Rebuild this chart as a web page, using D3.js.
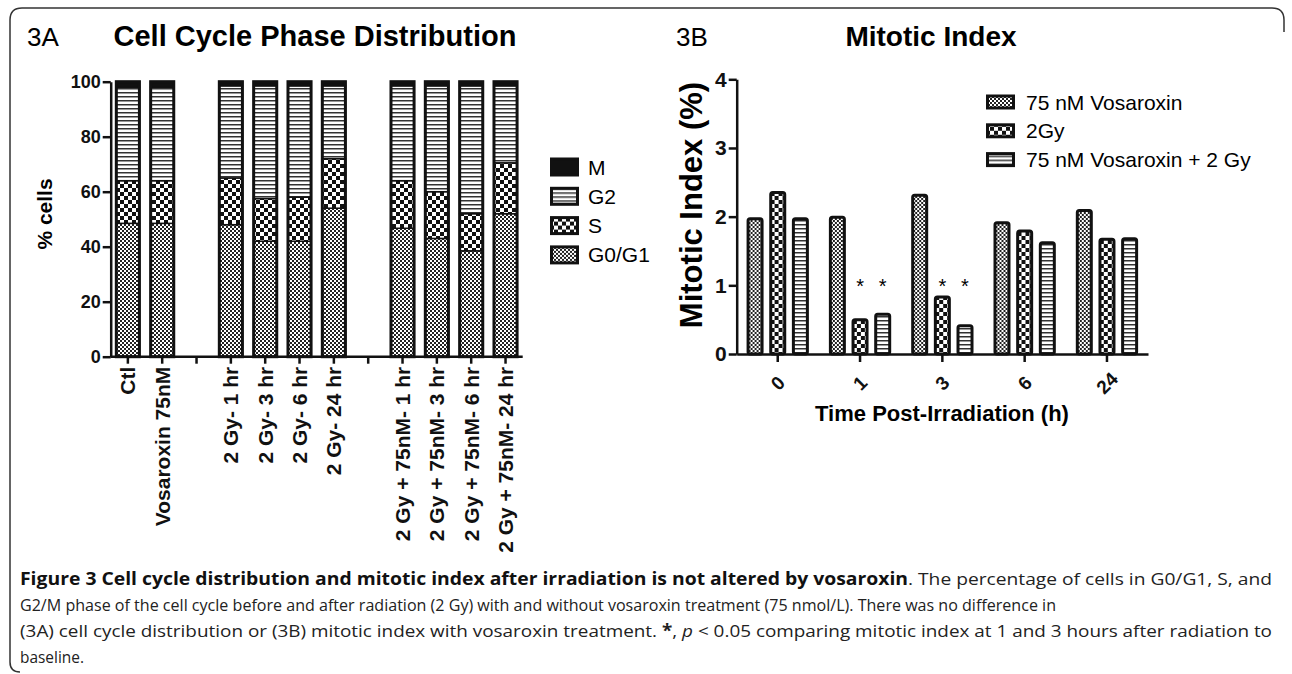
<!DOCTYPE html>
<html>
<head>
<meta charset="utf-8">
<title>Cell cycle distribution and mitotic index</title>
<style>
  body { margin: 0; background: #fff; }
  svg { display: block; font-family: "Liberation Sans", Arial, sans-serif; }
  .axis path, .axis line { stroke: #111; stroke-width: 2.5; }
  .axis text { fill: #111; font-weight: bold; }
  .caption { font-family: "Open Sans", "Noto Sans", sans-serif; font-size: 17px; fill: #222; }
</style>
</head>
<body>
<script src="https://d3js.org/d3.v7.min.js"></script>
<script>
// ---- 3A data: % cells per phase ----
var phaseCats = ["Ctl", "Vosaroxin 75nM", "gap1", "2 Gy- 1 hr", "2 Gy- 3 hr", "2 Gy- 6 hr", "2 Gy- 24 hr",
                 "gap2", "2 Gy + 75nM- 1 hr", "2 Gy + 75nM- 3 hr", "2 Gy + 75nM- 6 hr", "2 Gy + 75nM- 24 hr"];
var g0g1   = [48.5, 48.5, 0, 48, 42, 42, 54, 0, 46.7, 43, 38.5, 52];
var sPhase = [15.5, 15.5, 0, 17, 15.5, 16, 18, 0, 17.3, 17, 13.5, 18.5];
var g2     = [34, 34, 0, 33.5, 41, 40.5, 26.5, 0, 34.5, 38.5, 46.5, 28];
var mPhase = [2, 2, 0, 1.5, 1.5, 1.5, 1.5, 0, 1.5, 1.5, 1.5, 1.5];
var phaseKeys = ["G0/G1", "S", "G2", "M"];
var phaseTicks = [0, 20, 40, 60, 80, 100];

// ---- 3B data: mitotic index (%) ----
var times = ["0", "1", "3", "6", "24"];
var vosaroxin = [1.97, 1.99, 2.31, 1.91, 2.09];
var gy2       = [2.35, 0.50, 0.83, 1.79, 1.67];
var combo     = [1.97, 0.58, 0.41, 1.62, 1.68];
var seriesNames = ["75 nM Vosaroxin", "2Gy", "75 nM Vosaroxin + 2 Gy"];
var mitoticTicks = [0, 1, 2, 3, 4];
var starred = [["1", "2Gy"], ["1", "75 nM Vosaroxin + 2 Gy"], ["3", "2Gy"], ["3", "75 nM Vosaroxin + 2 Gy"]];

var svg = d3.select("body").append("svg")
    .attr("width", 1292)
    .attr("height", 674);

// patterns
var defs = svg.append("defs");
var pFine = defs.append("pattern").attr("id", "fine").attr("patternUnits", "userSpaceOnUse")
    .attr("width", 4).attr("height", 4);
pFine.append("rect").attr("width", 4).attr("height", 4).attr("fill", "#fff");
pFine.append("rect").attr("width", 2).attr("height", 2).attr("fill", "#222");
pFine.append("rect").attr("x", 2).attr("y", 2).attr("width", 2).attr("height", 2).attr("fill", "#222");

var pCheck = defs.append("pattern").attr("id", "check").attr("patternUnits", "userSpaceOnUse")
    .attr("width", 8).attr("height", 8);
pCheck.append("rect").attr("width", 8).attr("height", 8).attr("fill", "#fff");
pCheck.append("rect").attr("width", 4).attr("height", 4).attr("fill", "#111");
pCheck.append("rect").attr("x", 4).attr("y", 4).attr("width", 4).attr("height", 4).attr("fill", "#111");

var pStripe = defs.append("pattern").attr("id", "stripe").attr("patternUnits", "userSpaceOnUse")
    .attr("width", 4).attr("height", 4);
pStripe.append("rect").attr("width", 4).attr("height", 4).attr("fill", "#fff");
pStripe.append("rect").attr("width", 4).attr("height", 1.5).attr("fill", "#333");

var phaseFill = {"G0/G1": "url(#fine)", "S": "url(#check)", "G2": "url(#stripe)", "M": "#111"};
var seriesFill = {"75 nM Vosaroxin": "url(#fine)", "2Gy": "url(#check)", "75 nM Vosaroxin + 2 Gy": "url(#stripe)"};

// figure frame
svg.append("path")
    .attr("d", "M1284,32 L1284,20 Q1284,8 1272,8 L22,8 Q10,8 10,20 L10,662 Q10,672 20,672")
    .attr("fill", "none").attr("stroke", "#333").attr("stroke-width", 1.5);

// ================= 3A =================
var x1 = d3.scaleBand().domain(phaseCats).range([110.7, 522.7]).paddingInner(0.24).paddingOuter(0.12);
var y1 = d3.scaleLinear().domain([0, 100]).range([356.7, 81.7]);

var table = phaseCats.map(function(c, i) {
  return {cat: c, "G0/G1": g0g1[i], "S": sPhase[i], "G2": g2[i], "M": mPhase[i]};
}).filter(function(d) { return d.cat.indexOf("gap") !== 0; });

var stacked = d3.stack().keys(phaseKeys)(table);

var chartA = svg.append("g");
stacked.forEach(function(layer) {
  chartA.selectAll(".seg-" + layer.index)
    .data(layer)
    .enter().append("rect")
    .attr("x", function(d) { return x1(d.data.cat) + 1.5; })
    .attr("width", x1.bandwidth() - 3)
    .attr("y", function(d) { return y1(d[1]); })
    .attr("height", function(d) { return y1(d[0]) - y1(d[1]); })
    .attr("fill", phaseFill[layer.key])
    .attr("stroke", "#111")
    .attr("stroke-width", 1.5);
});
chartA.selectAll(".outline")
  .data(table)
  .enter().append("rect")
  .attr("x", function(d) { return x1(d.cat) + 1.5; })
  .attr("width", x1.bandwidth() - 3)
  .attr("y", function(d) { return y1(d["G0/G1"] + d.S + d.G2 + d.M); })
  .attr("height", function(d) { return y1(0) - y1(d["G0/G1"] + d.S + d.G2 + d.M); })
  .attr("fill", "none")
  .attr("stroke", "#111")
  .attr("stroke-width", 3);

svg.append("g")
  .attr("class", "axis")
  .attr("transform", "translate(110.7,0)")
  .call(d3.axisLeft(y1).tickValues(phaseTicks).tickSize(8).tickPadding(2).tickSizeOuter(0))
  .selectAll("text").style("font-size", "18px");

svg.append("g")
  .attr("class", "axis")
  .attr("transform", "translate(0,356.7)")
  .call(d3.axisBottom(x1).tickSize(7).tickSizeOuter(0)
        .tickFormat(function(d) { return d.indexOf("gap") === 0 ? "" : d; }))
  .call(function(g) { g.select(".domain").attr("d", "M110.7,0H522.7"); })
  .selectAll("text")
  .attr("x", -10).attr("y", 0).attr("dy", "0.35em")
  .attr("transform", "rotate(-90)")
  .style("text-anchor", "end")
  .style("font-size", "21px");

svg.append("text")
  .attr("transform", "translate(52,214) rotate(-90)")
  .attr("text-anchor", "middle")
  .style("font-weight", "bold").style("font-size", "21px")
  .text("%  cells");

svg.append("text").attr("x", 27).attr("y", 46).style("font-size", "26px").text("3A");
svg.append("text").attr("x", 315).attr("y", 46).attr("text-anchor", "middle")
  .style("font-weight", "bold").style("font-size", "29px").text("Cell Cycle Phase Distribution");

// legend 3A
var legA = svg.append("g").selectAll("g")
  .data(phaseKeys.slice().reverse())
  .enter().append("g")
  .attr("transform", function(d, i) { return "translate(550," + (167 + i * 29.3) + ")"; });
legA.append("rect").attr("x", 1.5).attr("y", -8).attr("width", 26).attr("height", 16)
  .attr("fill", function(d) { return phaseFill[d]; }).attr("stroke", "#111").attr("stroke-width", 3);
legA.append("text").attr("x", 38).attr("dy", "0.36em").style("font-size", "21px").text(function(d) { return d; });

// ================= 3B =================
var x2 = d3.scaleBand().domain(times).range([736.7, 1148]).paddingInner(0.243).paddingOuter(0.12);
var xs = d3.scaleBand().domain(seriesNames).range([0, x2.bandwidth()]).paddingInner(0.25).paddingOuter(0);
var y2 = d3.scaleLinear().domain([0, 4]).range([354, 79.3]);

var bars = times.map(function(t, i) {
  return [
    {time: t, series: seriesNames[0], value: vosaroxin[i]},
    {time: t, series: seriesNames[1], value: gy2[i]},
    {time: t, series: seriesNames[2], value: combo[i]}
  ];
});

var chartB = svg.append("g");
chartB.selectAll(".grp")
  .data(bars)
  .enter().append("g")
  .attr("transform", function(d, i) { return "translate(" + x2(times[i]) + ",0)"; })
  .selectAll("rect")
  .data(function(d) { return d; })
  .enter().append("rect")
  .attr("x", function(d) { return xs(d.series) + 1.5; })
  .attr("width", xs.bandwidth() - 3)
  .attr("y", function(d) { return y2(d.value); })
  .attr("height", function(d) { return y2(0) - y2(d.value); })
  .attr("rx", 2)
  .attr("fill", function(d) { return seriesFill[d.series]; })
  .attr("stroke", "#111")
  .attr("stroke-width", 3);

chartB.selectAll(".star")
  .data(starred)
  .enter().append("text")
  .attr("x", function(d) { return x2(d[0]) + xs(d[1]) + xs.bandwidth() / 2; })
  .attr("y", y2(1) + 8)
  .attr("text-anchor", "middle")
  .style("font-size", "20px")
  .text("*");

svg.append("g")
  .attr("class", "axis")
  .attr("transform", "translate(736.7,0)")
  .call(d3.axisLeft(y2).tickValues(mitoticTicks).tickFormat(d3.format("d"))
        .tickSize(8).tickPadding(2).tickSizeOuter(0))
  .selectAll("text").style("font-size", "21px");

svg.append("g")
  .attr("class", "axis")
  .attr("transform", "translate(0,354)")
  .call(d3.axisBottom(x2).tickSize(8).tickSizeOuter(0))
  .selectAll("text")
  .attr("x", 0).attr("y", 0).attr("dy", "0.35em")
  .attr("transform", "translate(0,29) rotate(-45)")
  .style("text-anchor", "middle")
  .style("font-size", "19px");

svg.append("text")
  .attr("transform", "translate(702,205) rotate(-90)")
  .attr("text-anchor", "middle")
  .style("font-weight", "bold").style("font-size", "31px")
  .text("Mitotic Index (%)");

svg.append("text").attr("x", 942).attr("y", 421).attr("text-anchor", "middle")
  .style("font-weight", "bold").style("font-size", "22px").text("Time Post-Irradiation (h)");

svg.append("text").attr("x", 676).attr("y", 46).style("font-size", "26px").text("3B");
svg.append("text").attr("x", 931).attr("y", 46).attr("text-anchor", "middle")
  .style("font-weight", "bold").style("font-size", "28px").text("Mitotic Index");

// legend 3B
var legB = svg.append("g").selectAll("g")
  .data(seriesNames)
  .enter().append("g")
  .attr("transform", function(d, i) { return "translate(986," + (102 + i * 28.8) + ")"; });
legB.append("rect").attr("x", 1.5).attr("y", -6).attr("width", 26).attr("height", 12)
  .attr("fill", function(d) { return seriesFill[d]; }).attr("stroke", "#111").attr("stroke-width", 3);
legB.append("text").attr("x", 40).attr("dy", "0.36em").style("font-size", "21px").text(function(d) { return d; });

// ================= caption =================
var cap = svg.append("g").attr("class", "caption");
cap.append("text").attr("x", 20).attr("y", 585)
  .attr("textLength", 888).attr("lengthAdjust", "spacingAndGlyphs")
  .style("font-weight", "bold").style("fill", "#111")
  .text("Figure 3 Cell cycle distribution and mitotic index after irradiation is not altered by vosaroxin");
cap.append("text").attr("x", 908).attr("y", 585)
  .attr("textLength", 364).attr("lengthAdjust", "spacingAndGlyphs")
  .text(". The percentage of cells in G0/G1, S, and");
cap.append("text").attr("x", 20).attr("y", 611)
  .attr("textLength", 1036).attr("lengthAdjust", "spacingAndGlyphs")
  .text("G2/M phase of the cell cycle before and after radiation (2 Gy) with and without vosaroxin treatment (75 nmol/L). There was no difference in");
var l3 = cap.append("text").attr("x", 20).attr("y", 637)
  .attr("textLength", 1252).attr("lengthAdjust", "spacingAndGlyphs");
l3.append("tspan").text("(3A) cell cycle distribution or (3B) mitotic index with vosaroxin treatment. ");
l3.append("tspan").style("font-weight", "bold").text("*");
l3.append("tspan").text(", ");
l3.append("tspan").style("font-style", "italic").text("p");
l3.append("tspan").text(" < 0.05 comparing mitotic index at 1 and 3 hours after radiation to");
cap.append("text").attr("x", 20).attr("y", 663)
  .attr("textLength", 64).attr("lengthAdjust", "spacingAndGlyphs")
  .text("baseline.");
</script>
</body>
</html>
